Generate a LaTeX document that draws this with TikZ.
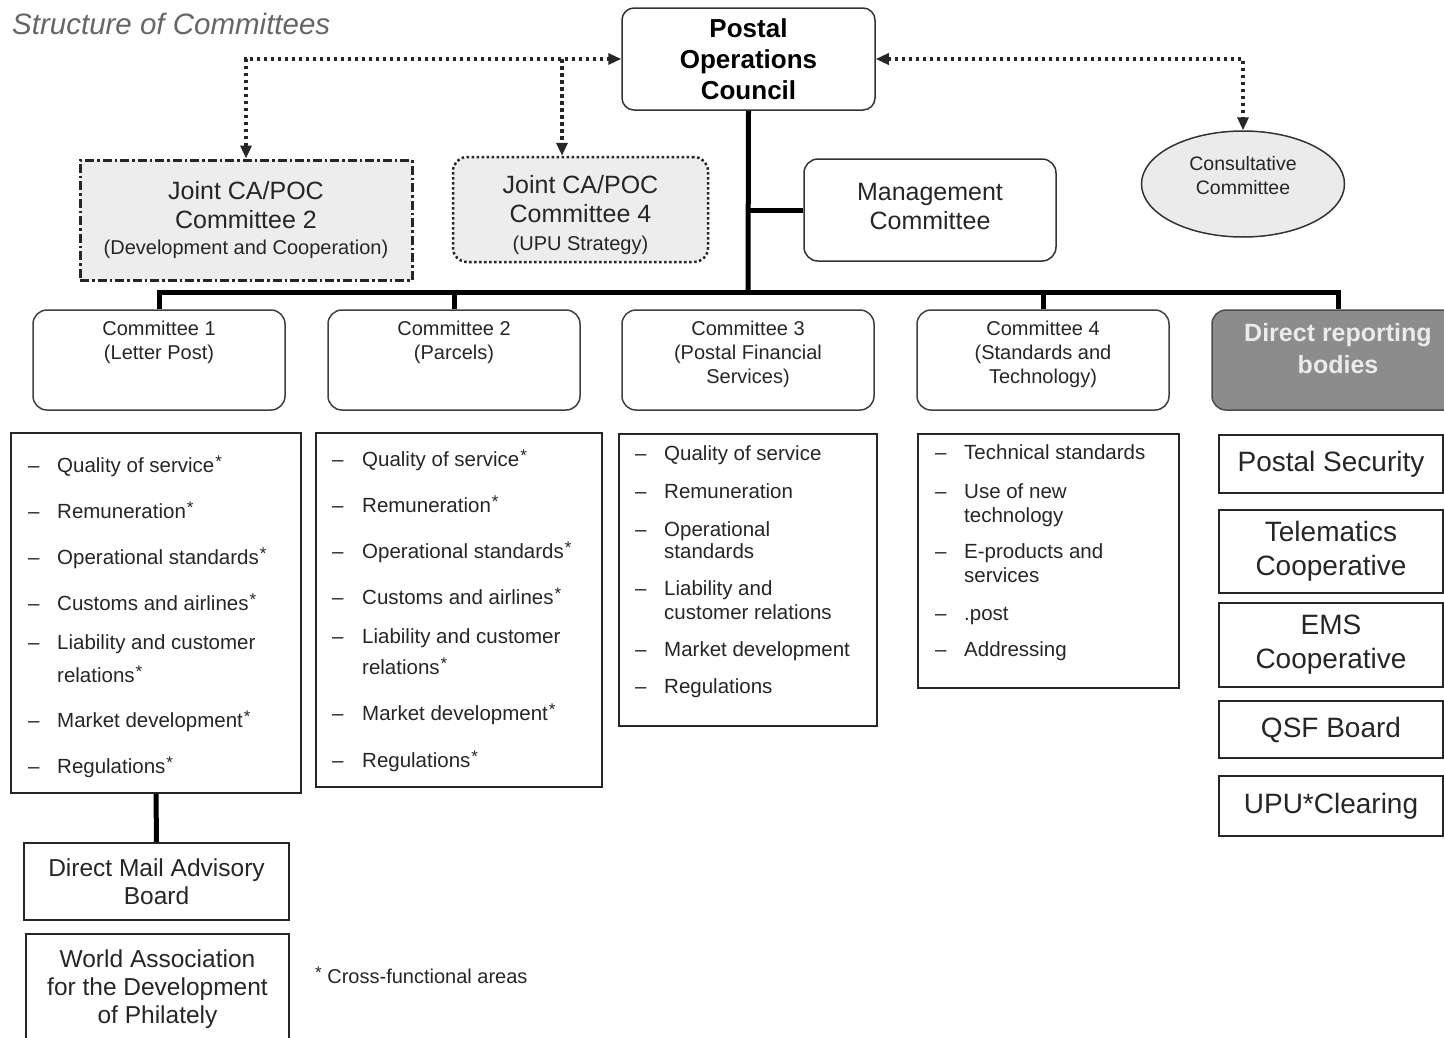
\documentclass[tikz,border=0pt]{standalone}
\usepackage{fontspec}
\setmainfont{Liberation Sans}
\usetikzlibrary{arrows.meta,shapes.geometric}
\newcommand\cfa{\kern1pt\raisebox{5pt}{\fontsize{17}{17}\selectfont *}}
\newcommand\itm[5]{\node[lt] (#1-d) at (#2,#4) {–}; \node[lt] (#1) at (#3,#4) {#5};}
\newcommand\itmc[4]{\node[lt] (#1) at (#2,#3) {#4};}
\begin{document}
\begin{tikzpicture}[x=1pt,y=-1pt,
  tri/.tip={Triangle[length=13pt,width=11pt]},
  dotline/.style={line width=3.5pt, dash pattern=on 3.5pt off 3.5pt, black!85},
  conn/.style={line width=5pt, black},
  pocbox/.style={draw=black!80, line width=1.5pt, rounded corners=12pt, minimum width=253pt, minimum height=102pt, align=center, font=\bfseries\fontsize{26}{31}\selectfont, inner sep=0pt},
  comm/.style={draw=black!75, line width=1.5pt, rounded corners=14pt, minimum width=252pt, minimum height=100pt, inner sep=0pt},
  ctext/.style={anchor=north, align=center, inner sep=0pt, font=\fontsize{20}{24}\selectfont, text=black!85},
  lbox/.style={draw=black!85, line width=2pt, inner sep=0pt},
  rbox/.style={draw=black!85, line width=2pt, inner sep=0pt, minimum width=224pt, align=center, font=\fontsize{28}{34}\selectfont, text=black!85},
  bbox/.style={draw=black!85, line width=2pt, inner sep=0pt, align=center, font=\fontsize{24.5}{28}\selectfont, text=black!85},
  lt/.style={anchor=west, inner sep=0pt, text height=15pt, text depth=4pt, font=\fontsize{20.5}{24}\selectfont, text=black!85}
]
\useasboundingbox (0,0) rectangle (1444,1037);
\fill[white] (0,0) rectangle (1444,1037);
\clip (0,0) rectangle (1444,1037);

% title
\node[anchor=west, inner sep=0pt, font=\itshape\fontsize{29.5}{32}\selectfont, text=black!60] (title) at (12,24) {Structure of Committees};

% top
\node[pocbox] (POC) at (748.5,59) {Postal\\Operations\\Council};

\node[draw=black!85, line width=3pt, dash pattern=on 9pt off 3pt on 2.5pt off 3pt, fill=black!7, minimum width=332pt, minimum height=120pt, align=center, font=\fontsize{25}{29}\selectfont, inner sep=0pt, text=black!85] (j2) at (246,220)
  {Joint CA/POC\\Committee 2\\[-3pt]{\fontsize{20}{24}\selectfont (Development and Cooperation)}};

\node[draw=black!85, line width=2.5pt, dash pattern=on 2.5pt off 2.5pt, rounded corners=14pt, fill=black!7, minimum width=255pt, minimum height=105pt, inner sep=0pt] (j4) at (580.5,209.5) {};
\node[align=center, font=\fontsize{25}{29}\selectfont, inner sep=0pt, text=black!85] (j4t) at (580.5,215)
  {Joint CA/POC\\Committee 4\\[-1pt]{\fontsize{20}{24}\selectfont (UPU Strategy)}};

\node[draw=black!80, line width=1.5pt, rounded corners=14pt, minimum width=252pt, minimum height=102pt, inner sep=0pt] (mgmt) at (930,210) {};
\node[align=center, font=\fontsize{25}{29}\selectfont, inner sep=0pt, text=black!85] (mgmtt) at (930,207) {Management\\Committee};

\node[ellipse, draw=black!80, line width=1.5pt, fill=black!8, minimum width=203pt, minimum height=106pt, inner sep=0pt] (cons) at (1243,184) {};
\node[align=center, inner sep=0pt, font=\fontsize{19.5}{24}\selectfont, text=black!85] (consl) at (1243,176) {Consultative\\Committee};

% dotted arrows
\coordinate (jx) at (562,59);
\draw[dotline, {tri}-{tri}] (j2.north) |- (POC.west);
\draw[dotline, -{tri}] (jx) -- (jx |- j4.north);
\draw[dotline, {tri}-{tri}] (POC.east) -| (cons.north);

% committees
\node[comm] (c1) at (159,360) {};
\node[comm] (c2) at (454,360) {};
\node[comm] (c3) at (748,360) {};
\node[comm] (c4) at (1043,360) {};
\node[comm, fill=black!45, draw=black!70] (c5) at (1338,360) {};
\node[ctext] (c1t) at (159,321) {Committee 1\\(Letter Post)};
\node[ctext] (c2t) at (454,321) {Committee 2\\(Parcels)};
\node[ctext] (c3t) at (748,321) {Committee 3\\(Postal Financial\\Services)};
\node[ctext] (c4t) at (1043,321) {Committee 4\\(Standards and\\Technology)};
\node[align=center, inner sep=0pt, font=\bfseries\fontsize{25}{32}\selectfont, text=white!92!black] (c5t) at (1338,349) {Direct reporting\\bodies};

% bus
\coordinate (bus) at (748,292);
\draw[conn] (POC.south) -- (bus);
\draw[conn] (c1.north) |- (bus) -| (c5.north);
\draw[conn] (c2.north) -- (c2.north |- bus);
\draw[conn] (c4.north) -- (c4.north |- bus);
\draw[conn] (POC.south |- mgmt.west) -- (mgmt.west);

% list boxes
\node[lbox, minimum width=290pt, minimum height=360pt] (l1) at (156,613) {};
\node[lbox, minimum width=286pt, minimum height=354pt] (l2) at (459,610) {};
\node[lbox, minimum width=258pt, minimum height=292pt] (l3) at (748,580) {};
\node[lbox, minimum width=261pt, minimum height=254pt] (l4) at (1048.5,561) {};

\itm{a1}{28}{57}{467}{Quality of service\cfa}
\itm{a2}{28}{57}{513}{Remuneration\cfa}
\itm{a3}{28}{57}{559}{Operational standards\cfa}
\itm{a4}{28}{57}{605}{Customs and airlines\cfa}
\itm{a5}{28}{57}{644}{Liability and customer}
\itmc{a5b}{57}{677}{relations\cfa}
\itm{a6}{28}{57}{722}{Market development\cfa}
\itm{a7}{28}{57}{768}{Regulations\cfa}

\itm{b1}{332}{362}{461}{Quality of service\cfa}
\itm{b2}{332}{362}{507}{Remuneration\cfa}
\itm{b3}{332}{362}{553}{Operational standards\cfa}
\itm{b4}{332}{362}{599}{Customs and airlines\cfa}
\itm{b5}{332}{362}{638}{Liability and customer}
\itmc{b5b}{362}{669}{relations\cfa}
\itm{b6}{332}{362}{715}{Market development\cfa}
\itm{b7}{332}{362}{762}{Regulations\cfa}

\itm{d1}{635}{664}{455}{Quality of service}
\itm{d2}{635}{664}{493}{Remuneration}
\itm{d3}{635}{664}{531}{Operational}
\itmc{d3b}{664}{553}{standards}
\itm{d4}{635}{664}{590}{Liability and}
\itmc{d4b}{664}{614}{customer relations}
\itm{d5}{635}{664}{651}{Market development}
\itm{d6}{635}{664}{688}{Regulations}

\itm{e1}{935}{964}{454}{Technical standards}
\itm{e2}{935}{964}{493}{Use of new}
\itmc{e2b}{964}{517}{technology}
\itm{e3}{935}{964}{553}{E-products and}
\itmc{e3b}{964}{577}{services}
\itm{e4}{935}{964}{615}{.post}
\itm{e5}{935}{964}{651}{Addressing}

% direct reporting bodies
\node[rbox, minimum height=58pt] (ps) at (1331,464) {Postal Security};
\node[rbox, minimum height=83pt] (tel) at (1331,551.5) {Telematics\\Cooperative};
\node[rbox, minimum height=84pt] (ems) at (1331,645) {EMS\\Cooperative};
\node[rbox, minimum height=57pt] (qsf) at (1331,729.5) {QSF Board};
\node[rbox, minimum height=60pt] (upu) at (1331,806) {UPU*Clearing};

% bottom left
\node[bbox, minimum width=265pt, minimum height=77pt] (dm) at (156.5,881.5) {Direct Mail Advisory\\Board};
\node[bbox, minimum width=263pt, minimum height=111pt] (wadp) at (157.5,989.5) {World Association\\for the Development\\of Philately};
\draw[conn] (l1.south) -- (dm.north);

\node[anchor=west, inner sep=0pt, font=\fontsize{20}{24}\selectfont, text=black!85] (fn) at (314,975) {\cfa\ Cross-functional areas};
\end{tikzpicture}
\end{document}
